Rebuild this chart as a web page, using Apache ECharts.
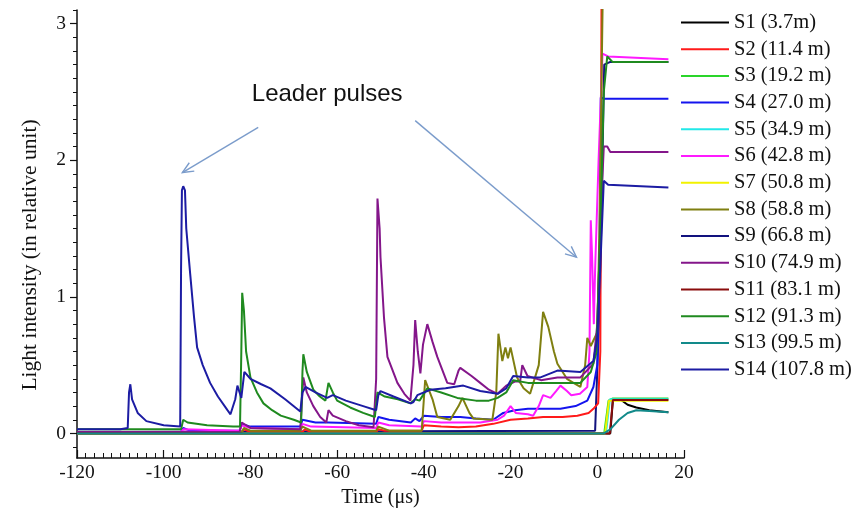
<!DOCTYPE html>
<html>
<head>
<meta charset="utf-8">
<script src="https://cdn.jsdelivr.net/npm/echarts@6/dist/echarts.min.js"></script>
<style>
  html, body { margin: 0; padding: 0; background: #fff; }
  #main { width: 861px; height: 518px; }
</style>
</head>
<body>
<div id="main"></div>
<script>
// series names (legend)
var names = ['S1 (3.7m)', 'S2 (11.4 m)', 'S3 (19.2 m)', 'S4 (27.0 m)', 'S5 (34.9 m)', 'S6 (42.8 m)', 'S7 (50.8 m)',
  'S8 (58.8 m)', 'S9 (66.8 m)', 'S10 (74.9 m)', 'S11 (83.1 m)', 'S12 (91.3 m)', 'S13 (99.5 m)', 'S14 (107.8 m)'];

// [time (us), light intensity]
var s1 = [[-120, 0], [3.0, 0], [3.6, 0.245], [5.5, 0.245], [7, 0.21], [9, 0.19], [12, 0.17], [16.4, 0.155]];
var s2 = [[-120, 0.0], [-82, 0.01], [-81.5, 0.03], [-80, 0.01], [-68, 0.01], [-67.5, 0.03], [-66, 0.01], [-51, 0.01],
  [-50.5, 0.03], [-49, 0.02], [-40.5, 0.02], [-40, 0.06], [-36, 0.05], [-32, 0.045], [-28, 0.05], [-24, 0.07],
  [-20, 0.1], [-16, 0.11], [-12.5, 0.12], [-8, 0.12], [-4.6, 0.13], [-2, 0.15], [-0.9, 0.18], [0.2, 0.22],
  [0.7, 0.6], [1.0, 3.4]];
var s3 = [[-120, 0], [1.6, 0], [2.6, 0.24], [3.5, 0.255], [16.4, 0.255]];
var s4 = [[-120, 0.01], [-96, 0.01], [-95.5, 0.04], [-94, 0.02], [-82.5, 0.02], [-82, 0.07], [-80, 0.05], [-68.5, 0.05],
  [-68, 0.1], [-65, 0.08], [-62, 0.08], [-51, 0.07], [-50.5, 0.12], [-48, 0.1], [-43, 0.08], [-42, 0.11], [-41, 0.09],
  [-40, 0.13], [-36, 0.12], [-31.6, 0.12], [-28, 0.11], [-24, 0.1], [-21.7, 0.15], [-19, 0.17], [-16, 0.18],
  [-8.5, 0.18], [-5, 0.2], [-2.3, 0.24], [-0.9, 0.34], [0, 0.5], [0.5, 1.2], [0.8, 2.46], [1.5, 2.45], [16.4, 2.45]];
var s5 = [[-120, 0], [2.0, 0], [2.9, 0.25], [16.4, 0.25]];
var s6 = [[-120, 0.01], [-96, 0.01], [-95.5, 0.03], [-82.5, 0.02], [-82, 0.06], [-80, 0.04], [-68.5, 0.03], [-68, 0.07],
  [-66, 0.05], [-51, 0.04], [-50.5, 0.08], [-48, 0.06], [-40.5, 0.05], [-40, 0.09], [-36, 0.08], [-31.6, 0.08],
  [-27, 0.08], [-23, 0.1], [-21.5, 0.13], [-20, 0.2], [-18.8, 0.15], [-16, 0.14], [-14.8, 0.13], [-13.5, 0.2],
  [-12.5, 0.28], [-10.8, 0.26], [-9.5, 0.31], [-8.5, 0.35], [-7, 0.31], [-6, 0.28], [-4, 0.29], [-2.3, 0.34],
  [-1.8, 0.6], [-1.5, 1.56], [-1.2, 1.3], [-0.8, 0.8], [-0.5, 1.2], [0.3, 2.0], [1.2, 2.78], [2.5, 2.76], [16.4, 2.74]];
var s7 = [[-120, 0], [1.8, 0], [2.7, 0.24], [16.4, 0.24]];
var s8 = [[-120, 0.01], [-82, 0.01], [-81.5, 0.04], [-80, 0.02], [-68.5, 0.02], [-68, 0.05], [-66, 0.02], [-51, 0.02],
  [-50.5, 0.05], [-48, 0.02], [-40.5, 0.02], [-40, 0.25], [-39.7, 0.39], [-38, 0.25], [-36.9, 0.12], [-33.9, 0.1],
  [-32, 0.2], [-31.1, 0.26], [-29.5, 0.15], [-28.6, 0.11], [-24.2, 0.1], [-23.3, 0.3], [-22.8, 0.73], [-21.9, 0.53],
  [-21.2, 0.63], [-20.6, 0.55], [-20, 0.63], [-18.5, 0.41], [-17, 0.33], [-15.5, 0.29], [-13.5, 0.5], [-12.5, 0.89],
  [-11.3, 0.78], [-10, 0.6], [-9.2, 0.51], [-7, 0.4], [-5.5, 0.37], [-3.9, 0.34], [-2.8, 0.5], [-2.3, 0.7],
  [-1.5, 0.64], [-0.9, 0.68], [0, 0.74], [0.5, 1.5], [1.3, 3.3], [1.6, 3.5]];
var s9 = [[-120, 0.01], [-0.5, 0.02], [0.6, 1.0], [1.6, 2.7], [3, 2.72], [16.4, 2.72]];
var s10 = [[-120, 0.01], [-82.5, 0.01], [-82, 0.08], [-80, 0.04], [-68.5, 0.03], [-67.8, 0.41], [-67, 0.3],
  [-65.5, 0.2], [-63.9, 0.12], [-62.5, 0.08], [-62, 0.17], [-61, 0.13], [-58, 0.09], [-55, 0.06], [-51.6, 0.045],
  [-51, 0.4], [-50.7, 1.72], [-50.2, 1.5], [-50, 1.29], [-49.2, 0.85], [-48.4, 0.56], [-46.1, 0.37], [-44.5, 0.29],
  [-43.1, 0.24], [-42.4, 0.5], [-42, 0.83], [-41.4, 0.6], [-40.8, 0.44], [-40.2, 0.65], [-39.2, 0.8], [-38, 0.67],
  [-36.9, 0.56], [-34.6, 0.37], [-33, 0.36], [-32, 0.46], [-31.6, 0.48], [-29, 0.42], [-27, 0.37], [-25, 0.32],
  [-23, 0.29], [-21, 0.35], [-19, 0.38], [-17.8, 0.38], [-17.3, 0.5], [-16.1, 0.42], [-13, 0.39], [-9.2, 0.41],
  [-3.9, 0.41], [-0.9, 0.51], [0, 0.8], [0.8, 1.6], [1.5, 2.1], [2.3, 2.1], [3, 2.06], [16.4, 2.06]];
var s11 = [[-120, 0], [2.9, 0], [3.6, 0.245], [16.4, 0.245]];
var s12 = [[-120, 0.03], [-96, 0.03], [-95.5, 0.1], [-94.5, 0.08], [-90, 0.06], [-84, 0.05], [-82.4, 0.05],
  [-82.1, 0.6], [-81.9, 1.03], [-81.5, 0.9], [-81, 0.6], [-80, 0.41], [-78.5, 0.3], [-77, 0.22], [-75, 0.17],
  [-73, 0.13], [-70, 0.1], [-68.3, 0.08], [-68, 0.45], [-67.8, 0.58], [-67, 0.45], [-65.5, 0.32], [-64, 0.27],
  [-62.7, 0.24], [-62, 0.37], [-61, 0.3], [-60, 0.24], [-57, 0.19], [-54, 0.15], [-51.3, 0.12], [-50.7, 0.3],
  [-49, 0.27], [-46, 0.25], [-43.1, 0.22], [-42, 0.25], [-41, 0.24], [-39.2, 0.33], [-36, 0.3], [-32.3, 0.26],
  [-28, 0.24], [-25, 0.24], [-23, 0.26], [-21, 0.3], [-19.4, 0.39], [-16, 0.37], [-13.1, 0.37], [-8, 0.37],
  [-3.9, 0.37], [-1.5, 0.45], [-0.2, 0.59], [0.8, 1.6], [1.5, 2.5], [2.3, 2.76], [3.5, 2.72], [16.4, 2.72]];
var s13 = [[-120, 0], [1.5, 0], [3, 0.03], [5, 0.1], [7, 0.15], [9, 0.17], [12, 0.165], [16.4, 0.155]];
var s14 = [[-120, 0.03], [-110, 0.03], [-108.3, 0.04], [-108, 0.3], [-107.7, 0.36], [-107.3, 0.25], [-106, 0.15],
  [-104, 0.09], [-100, 0.06], [-96.2, 0.05], [-96, 1.2], [-95.8, 1.78], [-95.5, 1.81], [-95.1, 1.78], [-94.8, 1.5],
  [-93.9, 1.17], [-93, 0.85], [-92.3, 0.63], [-91, 0.5], [-89.3, 0.37], [-87.5, 0.27], [-85.3, 0.17], [-84.6, 0.14],
  [-83.5, 0.25], [-83, 0.35], [-82.5, 0.3], [-82.1, 0.26], [-81.4, 0.45], [-80, 0.4], [-77.5, 0.36], [-75.4, 0.33],
  [-72, 0.25], [-68.5, 0.16], [-68, 0.3], [-67.3, 0.34], [-65, 0.3], [-62.3, 0.26], [-61, 0.28], [-58, 0.24],
  [-54, 0.2], [-51, 0.17], [-50.5, 0.28], [-50, 0.31], [-47, 0.27], [-43, 0.22], [-42.4, 0.23], [-41.5, 0.28],
  [-38.5, 0.32], [-35, 0.33], [-30.9, 0.35], [-27, 0.31], [-23, 0.29], [-21, 0.33], [-19.4, 0.42], [-16, 0.41],
  [-13.1, 0.41], [-9.2, 0.46], [-3.9, 0.45], [-0.9, 0.53], [0, 0.7], [0.8, 1.3], [1.5, 1.85], [2.5, 1.82], [16.4, 1.8]];

var allData = [s1, s2, s3, s4, s5, s6, s7, s8, s9, s10, s11, s12, s13, s14];

// axis ticks
var xTicks = [-120, -100, -80, -60, -40, -20, 0, 20];
var yTicks = [0, 1, 2, 3];
var yMinorTicks = [];
for (var v = -1; v <= 31; v++) { if (v % 10 !== 0) yMinorTicks.push(v / 10); }

// annotation: label position and arrows (data coords)
var noteText = 'Leader pulses';
var notePos = [-62.3, 2.48];
var arrows = [[[-78.2, 2.24], [-95.7, 1.91]], [[-42, 2.29], [-4.8, 1.29]]];

var colors = ['#000000', '#ff1a1a', '#2ad52a', '#1414ee', '#22e8e8', '#ff1aff', '#f2f200',
  '#7f7f10', '#12127e', '#84168a', '#8a0c0c', '#1f8a1f', '#128a8a', '#1c1ca3'];

var serif = 'Liberation Serif';

var myChart = echarts.init(document.getElementById('main'));

var series = allData.map(function (d, i) {
  return {
    name: names[i],
    type: 'line',
    data: d,
    showSymbol: false,
    symbol: 'none',
    animation: false,
    clip: true,
    z: i === 8 ? 1 : 2,
    lineStyle: { color: colors[i], width: 2 },
    itemStyle: { color: colors[i] }
  };
});

var option = {
  animation: false,
  backgroundColor: '#fff',
  grid: { left: 77, right: 177, top: 10, bottom: 60 },
  legend: {
    orient: 'vertical',
    left: 676,
    top: 7,
    itemWidth: 48,
    itemHeight: 2,
    itemGap: 5.7,
    icon: 'rect',
    data: names,
    selectedMode: false,
    textStyle: { fontFamily: serif, fontSize: 20.5, color: '#111', lineHeight: 20 }
  },
  xAxis: {
    type: 'value',
    min: -120,
    max: 20,
    interval: 20,
    name: 'Time (\u03bcs)',
    nameLocation: 'middle',
    nameGap: 23,
    nameTextStyle: { fontFamily: serif, fontSize: 20, color: '#111' },
    splitLine: { show: false },
    axisLine: { onZero: false, lineStyle: { color: '#111', width: 1.5 } },
    axisTick: { inside: true, length: 8, lineStyle: { color: '#111', width: 1.2 } },
    minorTick: { show: true, splitNumber: 10, length: 5, lineStyle: { color: '#111', width: 1 } },
    axisLabel: { fontFamily: serif, fontSize: 19.5, color: '#111', margin: 5 }
  },
  yAxis: [{
    type: 'value',
    min: -0.18,
    max: 3.1,
    name: 'Light intensity (in relative unit)',
    nameLocation: 'middle',
    nameGap: 36,
    nameTextStyle: { fontFamily: serif, fontSize: 21.5, color: '#111', padding: [0, 42, 0, 0] },
    splitLine: { show: false },
    axisLine: { show: true, onZero: false, lineStyle: { color: '#111', width: 1.5 } },
    axisTick: { show: true, length: 7, customValues: yTicks, lineStyle: { color: '#111', width: 1.2 } },
    axisLabel: { fontFamily: serif, fontSize: 19.5, color: '#111', margin: 11, customValues: yTicks }
  }, {
    type: 'value',
    position: 'left',
    min: -0.18,
    max: 3.1,
    splitLine: { show: false },
    axisLine: { show: false, onZero: false },
    axisLabel: { show: false },
    axisTick: { show: true, length: 4, customValues: yMinorTicks, lineStyle: { color: '#111', width: 1 } }
  }],
  series: series
};

myChart.setOption(option);

// annotation text + arrows, placed through the grid's own scales
function px(p) { return myChart.convertToPixel({ seriesIndex: 0 }, p); }
var graphics = [];
var tp = px(notePos);
graphics.push({
  type: 'text', x: tp[0], y: tp[1], z: 10,
  style: { text: noteText, font: '24px "Liberation Sans"', fill: '#111', textAlign: 'center', textVerticalAlign: 'middle' }
});
arrows.forEach(function (a) {
  var p0 = px(a[0]), p1 = px(a[1]);
  var ang = Math.atan2(p1[1] - p0[1], p1[0] - p0[0]);
  var hl = 12, ha = 0.42;
  var h1 = [p1[0] - hl * Math.cos(ang - ha), p1[1] - hl * Math.sin(ang - ha)];
  var h2 = [p1[0] - hl * Math.cos(ang + ha), p1[1] - hl * Math.sin(ang + ha)];
  var st = { stroke: '#7b9ccb', lineWidth: 1.4, fill: null };
  graphics.push({ type: 'polyline', z: 10, shape: { points: [p0, p1] }, style: st });
  graphics.push({ type: 'polyline', z: 10, shape: { points: [h1, p1, h2] }, style: st });
});
myChart.setOption({ graphic: graphics });
</script>
</body>
</html>
